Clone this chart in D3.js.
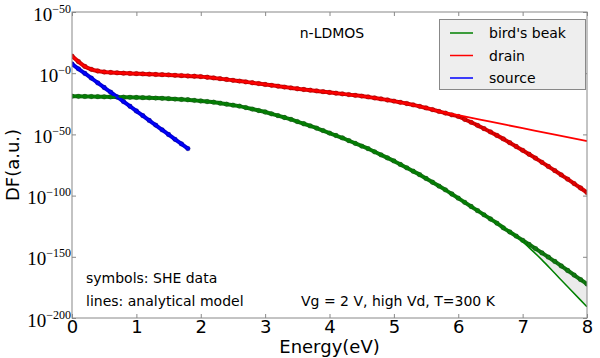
<!DOCTYPE html>
<html>
<head>
<meta charset="utf-8">
<script src="https://cdn.jsdelivr.net/npm/d3@7/dist/d3.min.js"></script>
<style>
	body { margin: 0; background: #fff; }
	svg { display: block; font-family: "DejaVu Sans", sans-serif; }
</style>
</head>
<body>
<svg width="600" height="358"></svg>
<script>
// values are log10(DF)
var symbolEnergy = [0,0.1,0.2,0.3,0.4,0.5,0.6,0.7,0.8,0.9,1,1.1,1.2,1.3,1.4,1.5,1.6,1.7,1.8,1.9,2,2.1,2.2,2.3,2.4,2.5,2.6,2.7,2.8,2.9,3,3.1,3.2,3.3,3.4,3.5,3.6,3.7,3.8,3.9,4,4.1,4.2,4.3,4.4,4.5,4.6,4.7,4.8,4.9,5,5.1,5.2,5.3,5.4,5.5,5.6,5.7,5.8,5.9,6,6.1,6.2,6.3,6.4,6.5,6.6,6.7,6.8,6.9,7,7.1,7.2,7.3,7.4,7.5,7.6,7.7,7.8,7.9,8];

var drainSymbols = [14,9.5,5.5,3.2,1.8,1,0.6,0.3,0,-0.2,-0.4,-0.6,-0.8,-1,-1.2,-1.4,-1.7,-2,-2.3,-2.5,-2.8,-3.3,-3.9,-4.5,-5.1,-5.8,-6.4,-7.1,-7.8,-8.5,-9.2,-9.9,-10.6,-11.3,-12,-12.7,-13.3,-13.9,-14.5,-15.1,-15.7,-16.3,-16.9,-17.5,-18.1,-18.7,-19.4,-20.2,-21,-21.9,-22.8,-23.8,-24.8,-25.9,-27.1,-28.4,-29.8,-31.2,-32.6,-34,-35.3,-37.7,-40.1,-42.6,-45.3,-48,-50.8,-53.7,-56.8,-59.9,-63,-66.2,-69.4,-72.8,-76.2,-79.6,-83.1,-86.6,-90.2,-93.8,-97.5];

var beakSymbols = [-18.8,-18.9,-19,-19.1,-19.2,-19.3,-19.4,-19.5,-19.6,-19.7,-19.8,-20,-20.1,-20.3,-20.5,-20.8,-21.1,-21.4,-21.7,-22.2,-22.7,-23.2,-23.7,-24.5,-25.3,-26.1,-26.9,-28.1,-29.3,-30.5,-31.7,-33.2,-34.7,-36.2,-37.7,-39.5,-41.3,-43.1,-44.9,-46.9,-48.9,-50.9,-52.9,-55.1,-57.3,-59.5,-61.7,-64.2,-66.7,-69.2,-71.7,-74.5,-77.3,-80.1,-82.9,-86,-89.1,-92.2,-95.3,-98.7,-102.1,-105.5,-108.9,-112.3,-115.7,-119.1,-122.5,-126.3,-129.7,-133.1,-136.5,-139.9,-143.3,-146.8,-150.3,-153.8,-157.5,-161.2,-164.9,-168.6,-172.3];

var sourceEnergy = [0,0.1,0.2,0.3,0.4,0.5,0.6,0.7,0.8,0.9,1,1.1,1.2,1.3,1.4,1.5,1.6,1.7,1.8];
var sourceSymbols = [7.5,3.6,-0.2,-4,-7.9,-11.7,-15.5,-19.3,-23.2,-27,-30.9,-34.7,-38.6,-42.4,-46.3,-50.1,-54,-57.8,-61.6];

// analytical model lines
var drainLineEnergy = [0,0.2,0.4,0.6,0.8,1,1.5,2,2.5,3,3.5,4,4.5,5,5.5,5.8,6,6.5,7,7.5,8];
var drainLine = [14,5.5,1.8,0.6,0,-0.4,-1.4,-2.8,-5.8,-9.2,-12.7,-15.7,-18.7,-22.8,-28.4,-32.3,-34.3,-39.6,-44.9,-50.2,-55.4];

var beakLineEnergy = [0,0.5,1,1.5,2,2.5,3,3.5,4,4.5,5,5.5,6,6.5,6.9,7.1,7.3,7.5,7.7,7.9,8];
var beakLine = [-18.8,-19.3,-19.8,-20.8,-22.7,-26.1,-31.7,-39.5,-48.9,-59.5,-71.7,-86,-102.1,-119.1,-133.1,-142.5,-152.5,-163.5,-174.5,-185.4,-190.8];

var sourceLineEnergy = [0,1.8];
var sourceLine = [7.5,-61.6];

var xTicks = [0,1,2,3,4,5,6,7,8];
var yTicks = [-200,-150,-100,-50,0,50];
var yTickLabels = ['\u2212200','\u2212150','\u2212100','\u221250','\u22120','\u221250'];

var legendNames = ["bird's beak", 'drain', 'source'];
var legendColors = ['#008000', '#ff0000', '#0000ff'];

var chart = {
	left: 72, right: 587, top: 12, bottom: 318
};

chart.x = d3.scaleLinear().domain([0, 8]).range([chart.left, chart.right]);
chart.y = d3.scaleLinear().domain([-200, 50]).range([chart.bottom, chart.top]);

chart.pairs = function(xs, ys){
	return xs.map(function(e, i){ return [e, ys[i]]; });
};

chart.line = d3.line()
	.x(function(d){ return chart.x(d[0]); })
	.y(function(d){ return chart.y(d[1]); })
	.curve(d3.curveMonotoneX);

var svg = d3.select('svg');

svg.append('clipPath').attr('id', 'plotclip')
	.append('rect')
	.attr('x', chart.left).attr('y', chart.top)
	.attr('width', chart.right - chart.left)
	.attr('height', chart.bottom - chart.top);

var plot = svg.append('g').attr('clip-path', 'url(#plotclip)');

//shaded gap between bird's beak model and data
var gap = beakLineEnergy.filter(function(e){ return e >= 6.9; }).map(function(e){
	var k = symbolEnergy.indexOf(e);
	return { e: e, lo: beakLine[beakLineEnergy.indexOf(e)], hi: beakSymbols[k] };
});
plot.append('path')
	.datum(gap)
	.attr('fill', '#ebebeb')
	.attr('d', d3.area()
		.x(function(d){ return chart.x(d.e); })
		.y0(function(d){ return chart.y(d.lo); })
		.y1(function(d){ return chart.y(d.hi); })
		.curve(d3.curveMonotoneX));

//symbols (SHE data)
var symbolSets = [
	{ pts: chart.pairs(symbolEnergy, beakSymbols), color: '#107810' },
	{ pts: chart.pairs(symbolEnergy, drainSymbols), color: '#e00000' },
	{ pts: chart.pairs(sourceEnergy, sourceSymbols), color: '#0000e0' }
];

symbolSets.forEach(function(s){
	plot.append('path')
		.datum(s.pts)
		.attr('fill', 'none')
		.attr('stroke', s.color)
		.attr('stroke-width', 4)
		.attr('d', chart.line);

	plot.append('g').selectAll('circle')
		.data(s.pts)
		.enter()
		.append('circle')
		.attr('cx', function(d){ return chart.x(d[0]); })
		.attr('cy', function(d){ return chart.y(d[1]); })
		.attr('r', 2.4)
		.attr('fill', s.color)
		.attr('stroke', '#000')
		.attr('stroke-opacity', 0.35)
		.attr('stroke-width', 0.5);
});

//lines (analytical model)
var lineSets = [
	{ pts: chart.pairs(beakLineEnergy, beakLine), color: '#008000', w: 1.5 },
	{ pts: chart.pairs(drainLineEnergy, drainLine), color: '#ff0000', w: 1.8 },
	{ pts: chart.pairs(sourceLineEnergy, sourceLine), color: '#0000ff', w: 1.5 }
];

lineSets.forEach(function(s){
	plot.append('path')
		.datum(s.pts)
		.attr('fill', 'none')
		.attr('stroke', s.color)
		.attr('stroke-width', s.w)
		.attr('d', chart.line);
});

//axes, ticks pointing inwards
var axisColor = '#888888';

var axBottom = svg.append('g')
	.attr('transform', 'translate(0,' + chart.bottom + ')')
	.call(d3.axisBottom(chart.x).tickValues(xTicks).tickSize(-4).tickPadding(2).tickFormat(d3.format('d')));
var axTop = svg.append('g')
	.attr('transform', 'translate(0,' + chart.top + ')')
	.call(d3.axisTop(chart.x).tickValues(xTicks).tickSize(-4).tickFormat(''));
var axLeft = svg.append('g')
	.attr('transform', 'translate(' + chart.left + ',0)')
	.call(d3.axisLeft(chart.y).tickValues(yTicks).tickSize(-4).tickFormat(''));
var axRight = svg.append('g')
	.attr('transform', 'translate(' + chart.right + ',0)')
	.call(d3.axisRight(chart.y).tickValues(yTicks).tickSize(-4).tickFormat(''));

[axBottom, axTop, axLeft, axRight].forEach(function(g){
	g.select('.domain').remove();
	g.selectAll('.tick line').attr('stroke', axisColor);
});

axBottom.selectAll('.tick text')
	.attr('fill', '#000')
	.style('font-family', '"DejaVu Sans", sans-serif')
	.style('font-size', '18px');

//y labels as 10^n
axLeft.selectAll('.tick').each(function(d){
	var t = d3.select(this).append('text')
		.attr('x', -1)
		.attr('y', 8)
		.attr('text-anchor', 'end')
		.attr('fill', '#000')
		.style('font-family', '"Liberation Serif", serif');
	t.append('tspan').style('font-size', '19px').text('10');
	t.append('tspan').attr('dy', -8).style('font-size', '12px').text(yTickLabels[yTicks.indexOf(d)]);
});

svg.append('rect')
	.attr('x', chart.left).attr('y', chart.top)
	.attr('width', chart.right - chart.left)
	.attr('height', chart.bottom - chart.top)
	.attr('fill', 'none')
	.attr('stroke', axisColor)
	.attr('stroke-width', 1);

//axis titles
svg.append('text')
	.attr('x', (chart.left + chart.right) / 2)
	.attr('y', 353)
	.attr('text-anchor', 'middle')
	.style('font-size', '18px')
	.text('Energy(eV)');

svg.append('text')
	.attr('transform', 'translate(19,165) rotate(-90)')
	.attr('text-anchor', 'middle')
	.style('font-size', '18px')
	.text('DF(a.u.)');

//annotations
svg.append('text').attr('x', 332).attr('y', 38).attr('text-anchor', 'middle')
	.style('font-size', '14px').text('n-LDMOS');
svg.append('text').attr('x', 86).attr('y', 283)
	.style('font-size', '14px').text('symbols: SHE data');
svg.append('text').attr('x', 86).attr('y', 306)
	.style('font-size', '14px').text('lines: analytical model');
svg.append('text').attr('x', 301).attr('y', 306)
	.style('font-size', '14px').text('Vg = 2 V, high Vd, T=300 K');

//legend
var legend = svg.append('g');
legend.append('rect')
	.attr('x', 439.5).attr('y', 19.5)
	.attr('width', 146).attr('height', 70)
	.attr('fill', '#eeeeee')
	.attr('stroke', axisColor);

var rows = legend.selectAll('g.row')
	.data(legendNames)
	.enter()
	.append('g')
	.attr('class', 'row')
	.attr('transform', function(d, i){ return 'translate(0,' + (33 + i * 22.5) + ')'; });

rows.append('line')
	.attr('x1', 450).attr('x2', 473)
	.attr('stroke', function(d, i){ return legendColors[i]; })
	.attr('stroke-width', 1.5);

rows.append('text')
	.attr('x', 489).attr('y', 5)
	.style('font-size', '14px')
	.text(function(d){ return d; });
</script>
</body>
</html>
